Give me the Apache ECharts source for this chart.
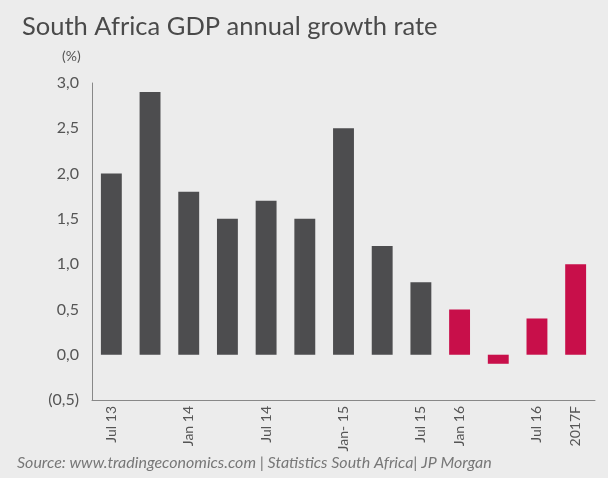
<!DOCTYPE html>
<html><head><meta charset="utf-8">
<script src="https://cdn.jsdelivr.net/npm/echarts@6/dist/echarts.min.js"></script>
<style>html,body{margin:0;padding:0;background:#ececec;}#c{width:608px;height:478px;}</style>
</head><body><div id="c"></div>
<script>
const categories = ["Jul 13","Oct 13","Jan 14","Apr 14","Jul 14","Oct 14","Jan- 15","Apr 15","Jul 15","Jan 16","Apr 16","Jul 16","2017F"];
const tickLabels = ["Jul 13","","Jan 14","","Jul 14","","Jan- 15","","Jul 15","Jan 16","","Jul 16","2017F"];
const values = [2.0, 2.9, 1.8, 1.5, 1.7, 1.5, 2.5, 1.2, 0.8, 0.5, -0.1, 0.4, 1.0];
const highlighted = [false,false,false,false,false,false,false,false,false,true,true,true,true];
const FONT = "Lato";
const chart = echarts.init(document.getElementById('c'));
chart.setOption({
  backgroundColor: '#ececec',
  animation: false,
  title: {
    text: 'South Africa GDP annual growth rate',
    left: 17, top: 9,
    textStyle: {fontFamily: FONT, fontSize: 25.5, fontWeight: 'normal', color: '#4a4a4a'}
  },
  graphic: [
    {type: 'text', left: 62, top: 49, style: {text: '(%)', fontFamily: FONT, fontSize: 14, fill: '#555'}},
    {type: 'text', left: 17, top: 455, style: {text: 'Source: www.tradingeconomics.com | Statistics South Africa| JP Morgan', fontFamily: FONT, fontSize: 16, fontStyle: 'italic', fill: '#777'}}
  ],
  grid: {left: 92, right: 13, top: 83, bottom: 78, containLabel: false},
  xAxis: {
    type: 'category',
    data: categories,
    position: 'bottom',
    axisLine: {onZero: false, lineStyle: {color: '#888', width: 1}},
    axisTick: {show: false},
    axisLabel: {
      interval: 0, rotate: 90, margin: 6,
      fontFamily: FONT, fontSize: 14, color: '#555',
      formatter: (v, i) => tickLabels[i]
    }
  },
  yAxis: {
    type: 'value', min: -0.5, max: 3, interval: 0.5,
    splitLine: {show: false},
    axisLine: {show: true, lineStyle: {color: '#888', width: 1}},
    axisTick: {show: false},
    axisLabel: {
      margin: 13, fontFamily: FONT, fontSize: 16, color: '#555',
      formatter: v => {
        const s = Math.abs(v).toFixed(1).replace('.', ',');
        return v < 0 ? '(' + s + ')' : s;
      }
    }
  },
  series: [{
    type: 'bar',
    barWidth: '54%',
    data: values.map((v, i) => ({value: v, itemStyle: {color: highlighted[i] ? '#c80f4a' : '#4d4d4f'}}))
  }]
});
</script></body></html>
